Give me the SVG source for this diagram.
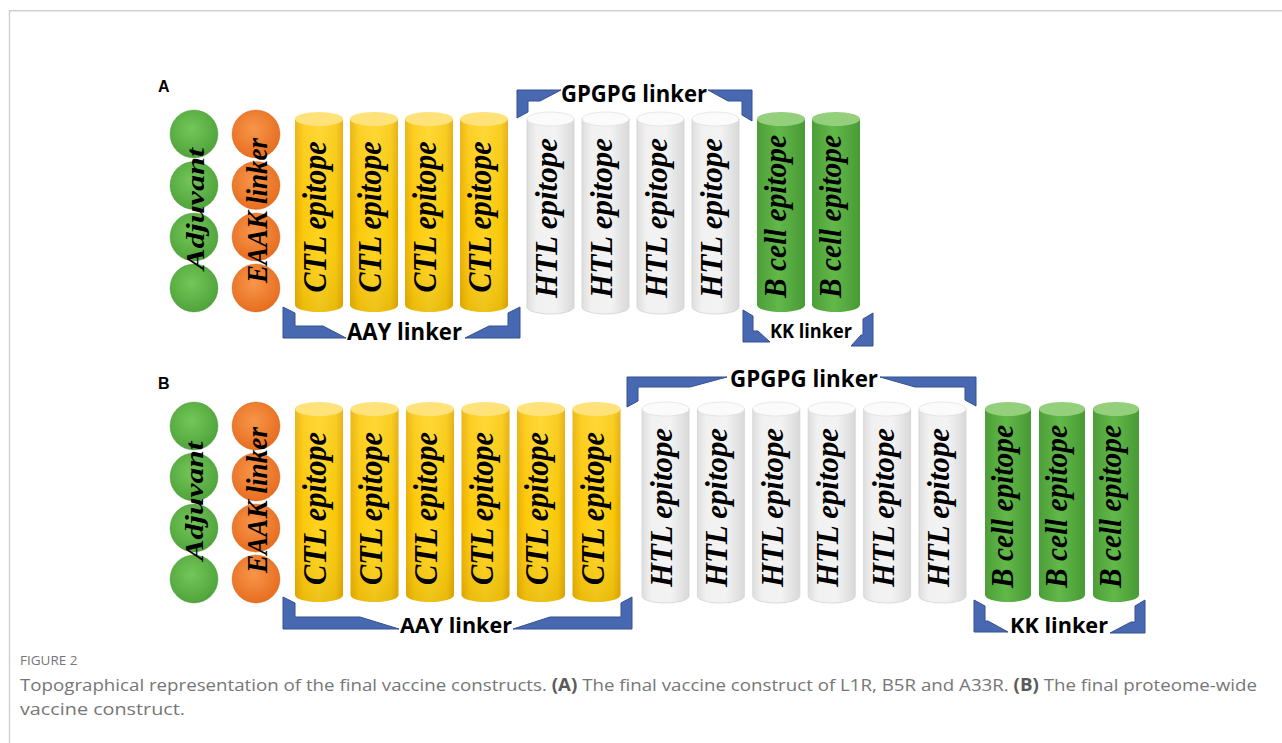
<svg xmlns="http://www.w3.org/2000/svg" width="1282" height="743" viewBox="0 0 1282 743">
<style>
.ep{font-family:"Liberation Serif","Times New Roman",serif;font-style:italic;font-weight:bold;fill:#000;text-anchor:middle}
.lk{font-family:"Open Sans","Liberation Sans",sans-serif;font-weight:bold;fill:#000}
.br{fill:#4868b2;stroke:#34508f;stroke-width:1;stroke-linejoin:miter}
.pl{font-family:"Liberation Sans",Arial,sans-serif;font-weight:bold;font-size:16px;fill:#000}
.cap{font-family:"Open Sans","Liberation Sans",sans-serif;fill:#767676}
.gc{fill:url(#gCirc);stroke:#3f8f2e;stroke-width:0.6;stroke-opacity:0.6}
.oc{fill:url(#oCirc);stroke:#c95a14;stroke-width:0.6;stroke-opacity:0.6}
.yb{fill:url(#yBody)}
.yt{fill:#ffe27a}
.wb{fill:url(#wBody);stroke:#d2d2d2;stroke-width:0.8}
.wt{fill:#fbfbfb;stroke:#d8d8d8;stroke-width:0.6}
.gb{fill:url(#gBody)}
.gt{fill:#94d07c}
.sh{fill:url(#shadeV)}
</style>
<defs>
<radialGradient id="gCirc" cx="0.45" cy="0.4" r="0.6">
<stop offset="0" stop-color="#74c658"/><stop offset="1" stop-color="#4fa43b"/>
</radialGradient>
<radialGradient id="oCirc" cx="0.45" cy="0.4" r="0.6">
<stop offset="0" stop-color="#f7964a"/><stop offset="1" stop-color="#e76e20"/>
</radialGradient>
<linearGradient id="yBody" x1="0" y1="0" x2="1" y2="0">
<stop offset="0" stop-color="#e9ae00"/><stop offset="0.18" stop-color="#fcc90a"/><stop offset="0.5" stop-color="#ffd31e"/><stop offset="0.85" stop-color="#f8c708"/><stop offset="1" stop-color="#e3a900"/>
</linearGradient>
<linearGradient id="wBody" x1="0" y1="0" x2="1" y2="0">
<stop offset="0" stop-color="#dedede"/><stop offset="0.2" stop-color="#f1f1f1"/><stop offset="0.6" stop-color="#f3f3f3"/><stop offset="1" stop-color="#d9d9d9"/>
</linearGradient>
<linearGradient id="gBody" x1="0" y1="0" x2="1" y2="0">
<stop offset="0" stop-color="#4c9f38"/><stop offset="0.45" stop-color="#62b849"/><stop offset="1" stop-color="#489a35"/>
</linearGradient>
<linearGradient id="shadeV" x1="0" y1="0" x2="0" y2="1">
<stop offset="0" stop-color="#ffffff" stop-opacity="0.12"/><stop offset="0.55" stop-color="#ffffff" stop-opacity="0"/><stop offset="1" stop-color="#6a4a00" stop-opacity="0.12"/>
</linearGradient>
</defs>
<rect width="1282" height="743" fill="#fff"/>
<g id="frame" fill="none" stroke="#cfcfcf" stroke-width="1.4">
<path d="M9.5,743 V10.7 H1282"/>
</g>
<text class="pl" x="158" y="92">A</text>
<text class="pl" x="158" y="389">B</text>

<!-- Panel A -->
<g id="a-adjuvant">
<circle class="gc" cx="194" cy="134" r="24"/><circle class="gc" cx="194" cy="185.5" r="24"/><circle class="gc" cx="194" cy="237" r="24"/><circle class="gc" cx="194" cy="288" r="24"/>
<text class="ep" font-size="25" textLength="122" lengthAdjust="spacingAndGlyphs" transform="translate(204,209) rotate(-90)">Adjuvant</text>
</g>
<g id="a-eaak">
<circle class="oc" cx="256" cy="134" r="24"/><circle class="oc" cx="256" cy="185.5" r="24"/><circle class="oc" cx="256" cy="237" r="24"/><circle class="oc" cx="256" cy="288" r="24"/>
<text class="ep" font-size="29" textLength="145" lengthAdjust="spacingAndGlyphs" transform="translate(267,210.5) rotate(-90)">EAAK linker</text>
</g>
<g id="a-ctl1"><path class="yb" d="M295,119 V305 A24,7 0 0 0 343,305 V119 Z"/><path class="sh" d="M295,119 V305 A24,7 0 0 0 343,305 V119 Z"/><ellipse class="yt" cx="319" cy="119" rx="24" ry="7"/><text class="ep" font-size="33" textLength="151" lengthAdjust="spacingAndGlyphs" transform="translate(326,217) rotate(-90)">CTL epitope</text></g>
<g id="a-ctl2"><path class="yb" d="M350,119 V305 A24,7 0 0 0 398,305 V119 Z"/><path class="sh" d="M350,119 V305 A24,7 0 0 0 398,305 V119 Z"/><ellipse class="yt" cx="374" cy="119" rx="24" ry="7"/><text class="ep" font-size="33" textLength="151" lengthAdjust="spacingAndGlyphs" transform="translate(381,217) rotate(-90)">CTL epitope</text></g>
<g id="a-ctl3"><path class="yb" d="M405,119 V305 A24,7 0 0 0 453,305 V119 Z"/><path class="sh" d="M405,119 V305 A24,7 0 0 0 453,305 V119 Z"/><ellipse class="yt" cx="429" cy="119" rx="24" ry="7"/><text class="ep" font-size="33" textLength="151" lengthAdjust="spacingAndGlyphs" transform="translate(436,217) rotate(-90)">CTL epitope</text></g>
<g id="a-ctl4"><path class="yb" d="M460,119 V305 A24,7 0 0 0 508,305 V119 Z"/><path class="sh" d="M460,119 V305 A24,7 0 0 0 508,305 V119 Z"/><ellipse class="yt" cx="484" cy="119" rx="24" ry="7"/><text class="ep" font-size="33" textLength="151" lengthAdjust="spacingAndGlyphs" transform="translate(491,217) rotate(-90)">CTL epitope</text></g>

<g id="a-htl1"><path class="wb" d="M527,119 V307 A23.5,7 0 0 0 574,307 V119 Z"/><ellipse class="wt" cx="550.5" cy="119" rx="23.5" ry="7"/><text class="ep" font-size="32" textLength="160" lengthAdjust="spacingAndGlyphs" transform="translate(557,218) rotate(-90)">HTL epitope</text></g>
<g id="a-htl2"><path class="wb" d="M582,119 V307 A23.5,7 0 0 0 629,307 V119 Z"/><ellipse class="wt" cx="605.5" cy="119" rx="23.5" ry="7"/><text class="ep" font-size="32" textLength="160" lengthAdjust="spacingAndGlyphs" transform="translate(612,218) rotate(-90)">HTL epitope</text></g>
<g id="a-htl3"><path class="wb" d="M637,119 V307 A23.5,7 0 0 0 684,307 V119 Z"/><ellipse class="wt" cx="660.5" cy="119" rx="23.5" ry="7"/><text class="ep" font-size="32" textLength="160" lengthAdjust="spacingAndGlyphs" transform="translate(667,218) rotate(-90)">HTL epitope</text></g>
<g id="a-htl4"><path class="wb" d="M692,119 V307 A23.5,7 0 0 0 739,307 V119 Z"/><ellipse class="wt" cx="715.5" cy="119" rx="23.5" ry="7"/><text class="ep" font-size="32" textLength="160" lengthAdjust="spacingAndGlyphs" transform="translate(722,218) rotate(-90)">HTL epitope</text></g>

<g id="a-bcell1"><path class="gb" d="M757,119 V305 A24,7 0 0 0 805,305 V119 Z"/><ellipse class="gt" cx="781" cy="119" rx="24" ry="7"/><text class="ep" font-size="31" textLength="163" lengthAdjust="spacingAndGlyphs" transform="translate(786,216.5) rotate(-90)">B cell epitope</text></g>
<g id="a-bcell2"><path class="gb" d="M812,119 V305 A24,7 0 0 0 860,305 V119 Z"/><ellipse class="gt" cx="836" cy="119" rx="24" ry="7"/><text class="ep" font-size="31" textLength="163" lengthAdjust="spacingAndGlyphs" transform="translate(841,216.5) rotate(-90)">B cell epitope</text></g>

<!-- Panel B -->
<g id="b-adjuvant">
<circle class="gc" cx="194" cy="426" r="24"/><circle class="gc" cx="194" cy="477" r="24"/><circle class="gc" cx="194" cy="528" r="24"/><circle class="gc" cx="194" cy="579" r="24"/>
<text class="ep" font-size="25" textLength="119" lengthAdjust="spacingAndGlyphs" transform="translate(203,501) rotate(-90)">Adjuvant</text>
</g>
<g id="b-eaak">
<circle class="oc" cx="256" cy="426" r="24"/><circle class="oc" cx="256" cy="477" r="24"/><circle class="oc" cx="256" cy="528" r="24"/><circle class="oc" cx="256" cy="579" r="24"/>
<text class="ep" font-size="29" textLength="146" lengthAdjust="spacingAndGlyphs" transform="translate(267,500) rotate(-90)">EAAK linker</text>
</g>
<g id="b-ctl1"><path class="yb" d="M295,409 V595 A24,7 0 0 0 343,595 V409 Z"/><path class="sh" d="M295,409 V595 A24,7 0 0 0 343,595 V409 Z"/><ellipse class="yt" cx="319" cy="409" rx="24" ry="7"/><text class="ep" font-size="33" textLength="153" lengthAdjust="spacingAndGlyphs" transform="translate(326,508.5) rotate(-90)">CTL epitope</text></g>
<g id="b-ctl2"><path class="yb" d="M350.5,409 V595 A24,7 0 0 0 398.5,595 V409 Z"/><path class="sh" d="M350.5,409 V595 A24,7 0 0 0 398.5,595 V409 Z"/><ellipse class="yt" cx="374.5" cy="409" rx="24" ry="7"/><text class="ep" font-size="33" textLength="153" lengthAdjust="spacingAndGlyphs" transform="translate(381.5,508.5) rotate(-90)">CTL epitope</text></g>
<g id="b-ctl3"><path class="yb" d="M406,409 V595 A24,7 0 0 0 454,595 V409 Z"/><path class="sh" d="M406,409 V595 A24,7 0 0 0 454,595 V409 Z"/><ellipse class="yt" cx="430" cy="409" rx="24" ry="7"/><text class="ep" font-size="33" textLength="153" lengthAdjust="spacingAndGlyphs" transform="translate(437,508.5) rotate(-90)">CTL epitope</text></g>
<g id="b-ctl4"><path class="yb" d="M461.5,409 V595 A24,7 0 0 0 509.5,595 V409 Z"/><path class="sh" d="M461.5,409 V595 A24,7 0 0 0 509.5,595 V409 Z"/><ellipse class="yt" cx="485.5" cy="409" rx="24" ry="7"/><text class="ep" font-size="33" textLength="153" lengthAdjust="spacingAndGlyphs" transform="translate(492.5,508.5) rotate(-90)">CTL epitope</text></g>
<g id="b-ctl5"><path class="yb" d="M517,409 V595 A24,7 0 0 0 565,595 V409 Z"/><path class="sh" d="M517,409 V595 A24,7 0 0 0 565,595 V409 Z"/><ellipse class="yt" cx="541" cy="409" rx="24" ry="7"/><text class="ep" font-size="33" textLength="153" lengthAdjust="spacingAndGlyphs" transform="translate(548,508.5) rotate(-90)">CTL epitope</text></g>
<g id="b-ctl6"><path class="yb" d="M572.5,409 V595 A24,7 0 0 0 620.5,595 V409 Z"/><path class="sh" d="M572.5,409 V595 A24,7 0 0 0 620.5,595 V409 Z"/><ellipse class="yt" cx="596.5" cy="409" rx="24" ry="7"/><text class="ep" font-size="33" textLength="153" lengthAdjust="spacingAndGlyphs" transform="translate(603.5,508.5) rotate(-90)">CTL epitope</text></g>

<g id="b-htl1"><path class="wb" d="M642,409 V596 A23.5,7 0 0 0 689,596 V409 Z"/><ellipse class="wt" cx="665.5" cy="409" rx="23.5" ry="7"/><text class="ep" font-size="32" textLength="159" lengthAdjust="spacingAndGlyphs" transform="translate(672,507.5) rotate(-90)">HTL epitope</text></g>
<g id="b-htl2"><path class="wb" d="M697.4,409 V596 A23.5,7 0 0 0 744.4,596 V409 Z"/><ellipse class="wt" cx="720.9" cy="409" rx="23.5" ry="7"/><text class="ep" font-size="32" textLength="159" lengthAdjust="spacingAndGlyphs" transform="translate(727.4,507.5) rotate(-90)">HTL epitope</text></g>
<g id="b-htl3"><path class="wb" d="M752.8,409 V596 A23.5,7 0 0 0 799.8,596 V409 Z"/><ellipse class="wt" cx="776.3" cy="409" rx="23.5" ry="7"/><text class="ep" font-size="32" textLength="159" lengthAdjust="spacingAndGlyphs" transform="translate(782.8,507.5) rotate(-90)">HTL epitope</text></g>
<g id="b-htl4"><path class="wb" d="M808.2,409 V596 A23.5,7 0 0 0 855.2,596 V409 Z"/><ellipse class="wt" cx="831.7" cy="409" rx="23.5" ry="7"/><text class="ep" font-size="32" textLength="159" lengthAdjust="spacingAndGlyphs" transform="translate(838.2,507.5) rotate(-90)">HTL epitope</text></g>
<g id="b-htl5"><path class="wb" d="M863.6,409 V596 A23.5,7 0 0 0 910.6,596 V409 Z"/><ellipse class="wt" cx="887.1" cy="409" rx="23.5" ry="7"/><text class="ep" font-size="32" textLength="159" lengthAdjust="spacingAndGlyphs" transform="translate(893.6,507.5) rotate(-90)">HTL epitope</text></g>
<g id="b-htl6"><path class="wb" d="M919,409 V596 A23.5,7 0 0 0 966,596 V409 Z"/><ellipse class="wt" cx="942.5" cy="409" rx="23.5" ry="7"/><text class="ep" font-size="32" textLength="159" lengthAdjust="spacingAndGlyphs" transform="translate(949,507.5) rotate(-90)">HTL epitope</text></g>

<g id="b-bcell1"><path class="gb" d="M985,409 V595 A23,7 0 0 0 1031,595 V409 Z"/><ellipse class="gt" cx="1008" cy="409" rx="23" ry="7"/><text class="ep" font-size="31" textLength="163" lengthAdjust="spacingAndGlyphs" transform="translate(1013,506.5) rotate(-90)">B cell epitope</text></g>
<g id="b-bcell2"><path class="gb" d="M1039,409 V595 A23,7 0 0 0 1085,595 V409 Z"/><ellipse class="gt" cx="1062" cy="409" rx="23" ry="7"/><text class="ep" font-size="31" textLength="163" lengthAdjust="spacingAndGlyphs" transform="translate(1067,506.5) rotate(-90)">B cell epitope</text></g>
<g id="b-bcell3"><path class="gb" d="M1093,409 V595 A23,7 0 0 0 1139,595 V409 Z"/><ellipse class="gt" cx="1116" cy="409" rx="23" ry="7"/><text class="ep" font-size="31" textLength="163" lengthAdjust="spacingAndGlyphs" transform="translate(1121,506.5) rotate(-90)">B cell epitope</text></g>

<g id="connectors">
<polygon class="br" points="283,307 295,313 295,326 323,326 346,338 283,338"/>
<polygon class="br" points="520,307 508,313 508,326 489,326 465,338 520,338"/>
<text class="lk" x="347" y="340" font-size="23" textLength="115" lengthAdjust="spacingAndGlyphs">AAY linker</text>
<polygon class="br" points="517,118 528,112 528,101 540,101 561,90 517,90"/>
<polygon class="br" points="752,121 742,115 742,101 728,101 708,90 752,90"/>
<text class="lk" x="561" y="102" font-size="23" textLength="146" lengthAdjust="spacingAndGlyphs">GPGPG linker</text>
<polygon class="br" points="743,310 753,316 753,331 758,331 770,342 743,342"/>
<polygon class="br" points="873,313 863,319 863,335 861,335 851,346 873,346"/>
<text class="lk" x="770" y="338" font-size="19" textLength="82" lengthAdjust="spacingAndGlyphs">KK linker</text>

<polygon class="br" points="283,597 295,603 295,617 360,617 399,629 283,629"/>
<polygon class="br" points="632,597 621,603 621,617 550,617 513,629 632,629"/>
<text class="lk" x="400" y="633" font-size="22" textLength="112" lengthAdjust="spacingAndGlyphs">AAY linker</text>
<polygon class="br" points="627,407 638,401 638,387 690,387 727,377 627,377"/>
<polygon class="br" points="976,406 965,400 965,387 915,387 880,377 976,377"/>
<text class="lk" x="730" y="387" font-size="23" textLength="148" lengthAdjust="spacingAndGlyphs">GPGPG linker</text>
<polygon class="br" points="974,600 985,606 985,621 988,621 1008,632 974,632"/>
<polygon class="br" points="1145,600 1135,606 1135,622 1131,622 1110,633 1145,633"/>
<text class="lk" x="1010" y="633" font-size="22" textLength="98" lengthAdjust="spacingAndGlyphs">KK linker</text>
</g>

<g id="caption">
<text class="cap" x="20" y="665" font-size="13.5" fill="#7a7a7a">FIGURE 2</text>
<text class="cap" x="20" y="691" font-size="17" textLength="1237" lengthAdjust="spacingAndGlyphs">Topographical representation of the final vaccine constructs. <tspan font-weight="bold" fill="#5a5a5a">(A)</tspan> The final vaccine construct of L1R, B5R and A33R. <tspan font-weight="bold" fill="#5a5a5a">(B)</tspan> The final proteome-wide</text>
<text class="cap" x="20" y="715" font-size="17" textLength="165" lengthAdjust="spacingAndGlyphs">vaccine construct.</text>
</g>
</svg>
